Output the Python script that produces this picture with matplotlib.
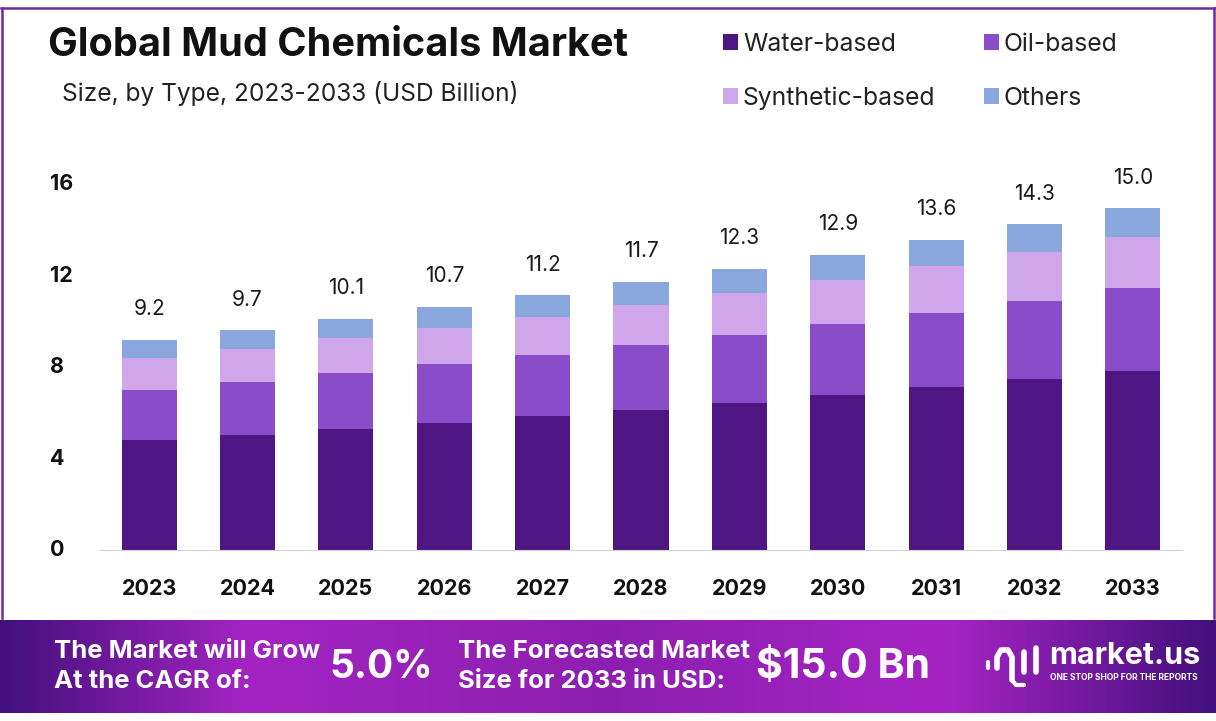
import numpy as np
import matplotlib
matplotlib.use("Agg")
import matplotlib.pyplot as plt
from matplotlib.colors import LinearSegmentedColormap
from matplotlib.lines import Line2D
from matplotlib.transforms import blended_transform_factory, ScaledTranslation

years = ["2023","2024","2025","2026","2027","2028","2029","2030","2031","2032","2033"]
water = [4.81,5.03,5.30,5.56,5.86,6.13,6.43,6.78,7.13,7.48,7.83]
oil = [2.19,2.32,2.45,2.58,2.67,2.84,2.98,3.11,3.24,3.41,3.63]
synthetic = [1.40,1.44,1.53,1.58,1.66,1.75,1.84,1.93,2.06,2.14,2.23]
others = [0.79,0.83,0.83,0.92,0.96,1.01,1.05,1.09,1.14,1.23,1.27]
totals = ["9.2","9.7","10.1","10.7","11.2","11.7","12.3","12.9","13.6","14.3","15.0"]
yticks = [0,4,8,12,16]

W, H = 1216, 721
plt.rcParams["font.family"] = ["Inter", "DejaVu Sans"]
fig = plt.figure(figsize=(W/100, H/100), dpi=100, facecolor="white")
def fx(x): return x/W
def fy(y): return 1-y/H

# frame
PURPLE = "#6f2c9e"
fig.add_artist(Line2D([fx(2),fx(2)],[fy(8),fy(618)],color=PURPLE,lw=1.8))
fig.add_artist(Line2D([fx(1214),fx(1214)],[fy(8),fy(618)],color=PURPLE,lw=1.8))
fig.add_artist(Line2D([fx(1),fx(1215)],[fy(8),fy(8)],color=PURPLE,lw=1.8))

# chart
ax = fig.add_axes([fx(100), fy(550), (1182-100)/W, (550-184.4)/H])
x = np.arange(len(years))
cols = ["#4f1582","#8a4cc8","#cfa6ea","#89a7dc"]
bw = 0.56
b = np.zeros(len(years))
handles = []
for vals, c, name in zip([water,oil,synthetic,others], cols, ["Water-based","Oil-based","Synthetic-based","Others"]):
    r = ax.bar(x, vals, bw, bottom=b, color=c, label=name)
    handles.append(r)
    b = b + np.array(vals)
for xi, top, t in zip(x, b, totals):
    ax.annotate(t, (xi, top), xytext=(0, 22), textcoords="offset points",
                ha="center", va="center", fontsize=15, color="#1a1a1a", annotation_clip=False)
ax.set_xlim(-0.5, 10.5)
ax.set_ylim(0, 16)
ax.set_xticks(x, years)
ax.set_yticks(yticks, [str(v) for v in yticks])
for s in ["top","left","right"]:
    ax.spines[s].set_visible(False)
ax.spines["bottom"].set_color("#d4d4d4")
ax.tick_params(length=0)
ax.tick_params(axis="x", pad=21)
ax.tick_params(axis="y", pad=0)
for l in ax.get_xticklabels():
    l.set_fontsize(15.5); l.set_fontweight("bold"); l.set_color("#111111")
for l in ax.get_yticklabels():
    l.set_fontsize(15.5); l.set_fontweight("bold"); l.set_color("#111111")
    l.set_ha("left")
    l.set_transform(blended_transform_factory(fig.transFigure, ax.transData)
                    + ScaledTranslation(0, 2/100, fig.dpi_scale_trans))
    l.set_x(fx(50))

# title
fig.text(fx(48), fy(46), "Global Mud Chemicals Market", fontsize=28.5, fontweight="bold",
         color="#111111", va="center", ha="left")
fig.text(fx(62), fy(94), "Size, by Type, 2023-2033 (USD Billion)", fontsize=17.65,
         color="#222222", va="center", ha="left")

# legend
order = [handles[0], handles[2], handles[1], handles[3]]
labs = ["Water-based","Synthetic-based","Oil-based","Others"]
fig.legend(order, labs, ncol=2, loc="upper left",
           bbox_to_anchor=(fx(698), fy(8)), frameon=False, fontsize=17.8,
           handlelength=0.62, handleheight=0.62, handletextpad=0.2,
           labelspacing=1.25, columnspacing=1.95, borderpad=0.5, labelcolor="#222222")

# banner
bax = fig.add_axes([0, fy(713), 1, (713-620)/H])
cmap = LinearSegmentedColormap.from_list("banner",
    [(0,"#43107c"),(0.2,"#a324c2"),(0.5,"#8d1fb0"),(0.78,"#a624c4"),(1,"#43107c")])
bax.imshow(np.linspace(0,1,600)[None,:], aspect="auto", cmap=cmap, extent=(0,W,713,620))
bax.set_xlim(0,W); bax.set_ylim(713,620); bax.axis("off")

def btext(px, py, s, size):
    bax.text(px, py, s, fontsize=size, color="white", fontweight="bold", va="center", ha="left")
btext(54, 651, "The Market will Grow", 18.5)
btext(54, 681, "At the CAGR of:", 18.5)
btext(329, 667, "5.0%", 28)
btext(458, 651, "The Forecasted Market", 18.5)
btext(458, 681, "Size for 2033 in USD:", 18.5)
btext(756, 667, "$15.0 Bn", 29.5)
btext(1049, 656, "market.us", 22)
btext(1050, 678, "ONE STOP SHOP FOR THE REPORTS", 6.1)

# logo mark
bax.plot([988,988],[662,668],color="white",lw=3,solid_capstyle="round")
bax.plot([997,997,1001,1008,1012,1012],[668,657,650,650,657,680],color="white",lw=4,solid_capstyle="round")
bax.plot([1012,1016,1024],[680,685,685],color="white",lw=3,solid_capstyle="round")
bax.plot([1024,1024],[652,672],color="white",lw=4,solid_capstyle="round")
bax.plot([1036,1036],[648,672],color="white",lw=4,solid_capstyle="round")

fig.savefig("out.png", dpi=100, facecolor="white")
